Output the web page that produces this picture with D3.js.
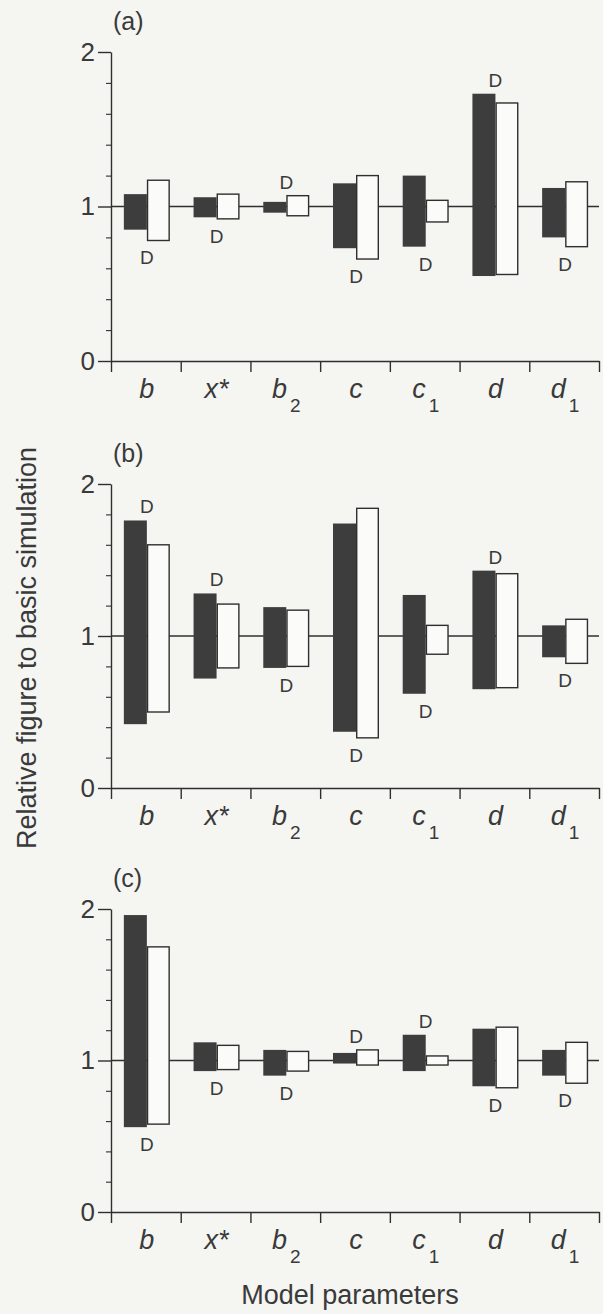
<!DOCTYPE html>
<html>
<head>
<meta charset="utf-8">
<script src="https://cdn.jsdelivr.net/npm/d3@7"></script>
<style>
  html, body { margin: 0; padding: 0; background: #f5f5f2; }
  svg { display: block; }
  text { font-family: "Liberation Sans", Arial, Helvetica, sans-serif; fill: #3a3a3a; }
</style>
</head>
<body>
<svg id="chart" width="603" height="1314"></svg>
<script>
// Model parameters on the x axis (base letter + subscript)
const categories   = ["b", "x*", "b2", "c", "c1", "d", "d1"];
const categoryBase = ["b", "x*", "b", "c", "c", "d", "d"];
const categorySub  = ["", "", "2", "", "1", "", "1"];
const panelLabels  = ["(a)", "(b)", "(c)"];
const yTicks       = [0, 1, 2];
const yTitle       = "Relative figure to basic simulation";
const xTitle       = "Model parameters";
const markText     = "D";

// Each range is [low, high] relative to the basic simulation
const solidA = [[0.85, 1.08], [0.93, 1.06], [0.96, 1.03], [0.73, 1.15], [0.74, 1.20], [0.55, 1.73], [0.80, 1.12]];
const openA  = [[0.78, 1.17], [0.92, 1.08], [0.94, 1.07], [0.66, 1.20], [0.90, 1.04], [0.56, 1.67], [0.74, 1.16]];
const markA  = ["below", "below", "above", "below", "below", "above", "below"];

const solidB = [[0.42, 1.76], [0.72, 1.28], [0.79, 1.19], [0.37, 1.74], [0.62, 1.27], [0.65, 1.43], [0.86, 1.07]];
const openB  = [[0.50, 1.60], [0.79, 1.21], [0.80, 1.17], [0.33, 1.84], [0.88, 1.07], [0.66, 1.41], [0.82, 1.11]];
const markB  = ["above", "above", "below", "below", "below", "above", "below"];

const solidC = [[0.56, 1.96], [0.93, 1.12], [0.90, 1.07], [0.98, 1.05], [0.93, 1.17], [0.83, 1.21], [0.90, 1.07]];
const openC  = [[0.58, 1.75], [0.94, 1.10], [0.93, 1.06], [0.97, 1.07], [0.97, 1.03], [0.82, 1.22], [0.85, 1.12]];
const markC  = ["below", "below", "below", "above", "above", "below", "below"];

const panels = [
  { label: panelLabels[0], solid: solidA, open: openA, mark: markA },
  { label: panelLabels[1], solid: solidB, open: openB, mark: markB },
  { label: panelLabels[2], solid: solidC, open: openC, mark: markC }
];

// Layout
const xLeft = 111, xRight = 599;
const panelTop    = [52, 484, 909];
const panelBottom = [361, 788, 1212];
const ink = "#2f2f2f";

const svg = d3.select("#chart");
svg.append("rect").attr("width", 603).attr("height", 1314).attr("fill", "#f5f5f2");

const x = d3.scaleBand().domain(categories).range([xLeft, xRight]).padding(0);
const bw = x.bandwidth();
const pairW = bw * 0.66;
const sub = d3.scaleBand().domain(["solid", "open"]).range([0, pairW]).padding(0);
const boundary = d3.scaleLinear().domain([0, categories.length]).range([xLeft, xRight]);

panels.forEach((p, pi) => {
  const y = d3.scaleLinear().domain([0, 2]).range([panelBottom[pi], panelTop[pi]]);
  const g = svg.append("g");

  // panel letter
  g.append("text")
    .attr("x", xLeft + 2).attr("y", panelTop[pi] - 22)
    .attr("font-size", 25)
    .text(p.label);

  // reference line at 1
  g.append("line")
    .attr("x1", xLeft).attr("x2", xRight)
    .attr("y1", y(1)).attr("y2", y(1))
    .attr("stroke", ink).attr("stroke-width", 1.3);

  // y axis: major ticks
  const yAxis = g.append("g")
    .attr("transform", `translate(${xLeft},0)`)
    .call(d3.axisLeft(y).tickValues(yTicks).tickSize(13).tickPadding(3)
      .tickSizeOuter(0).tickFormat(d3.format("d")));
  yAxis.selectAll("path, line").attr("stroke", ink).attr("stroke-width", 1.4);
  yAxis.selectAll("text").attr("font-size", 26).attr("fill", "#3a3a3a")
    .style("font-family", '"Liberation Sans", Arial, Helvetica, sans-serif');

  // y axis: minor ticks every 0.2
  const minor = d3.range(1, 10).map(i => i * 0.2).filter(v => Math.abs(v - 1) > 1e-6);
  const yMinor = g.append("g")
    .attr("transform", `translate(${xLeft},0)`)
    .call(d3.axisLeft(y).tickValues(minor).tickSize(5).tickFormat(""));
  yMinor.select(".domain").remove();
  yMinor.selectAll("line").attr("stroke", ink).attr("stroke-width", 1.1);

  // x axis with ticks at category boundaries
  const xAxis = g.append("g")
    .attr("transform", `translate(0,${y(0)})`)
    .call(d3.axisBottom(boundary).tickValues(d3.range(0, categories.length + 1))
      .tickSize(11).tickSizeOuter(0).tickFormat(""));
  xAxis.selectAll("path, line").attr("stroke", ink).attr("stroke-width", 1.4);

  // bars
  categories.forEach((cat, i) => {
    const x0 = x(cat) + (bw - pairW) / 2 + 1;
    const s = p.solid[i], o = p.open[i];

    g.append("rect")
      .attr("x", x0 + sub("solid")).attr("width", sub.bandwidth())
      .attr("y", y(s[1])).attr("height", y(s[0]) - y(s[1]))
      .attr("fill", "#3d3d3d");

    g.append("rect")
      .attr("x", x0 + sub("open") + 0.7).attr("width", sub.bandwidth() - 1.4)
      .attr("y", y(o[1])).attr("height", y(o[0]) - y(o[1]))
      .attr("fill", "#fbfbf9").attr("stroke", ink).attr("stroke-width", 1.4);

    const top = Math.max(s[1], o[1]);
    const bottom = Math.min(s[0], o[0]);
    g.append("text")
      .attr("x", x0 + sub("open"))
      .attr("y", p.mark[i] === "above" ? y(top) - 7 : y(bottom) + 24)
      .attr("text-anchor", "middle")
      .attr("font-size", 19)
      .text(markText);

    // category label with optional subscript
    const t = g.append("text")
      .attr("x", x(cat) + bw / 2 + 1)
      .attr("y", y(0) + 37)
      .attr("text-anchor", "middle")
      .attr("font-size", 27)
      .attr("font-style", "italic");
    t.append("tspan").text(categoryBase[i]);
    if (categorySub[i]) {
      t.append("tspan").attr("dx", 3).attr("dy", 14)
        .attr("font-size", 19).attr("font-style", "normal")
        .text(categorySub[i]);
    }
  });
});

// axis titles
svg.append("text")
  .attr("transform", "translate(36,648) rotate(-90)")
  .attr("text-anchor", "middle")
  .attr("font-size", 27)
  .text(yTitle);

svg.append("text")
  .attr("x", 350).attr("y", 1304)
  .attr("text-anchor", "middle")
  .attr("font-size", 27)
  .text(xTitle);
</script>
</body>
</html>
